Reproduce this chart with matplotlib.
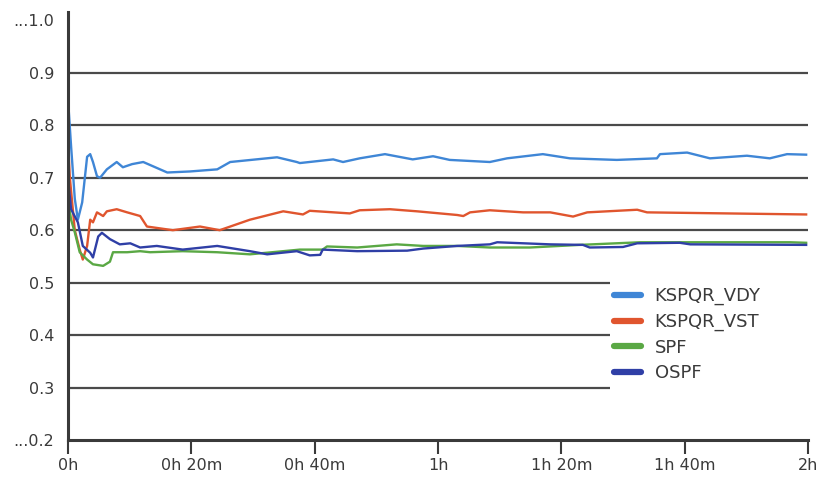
import matplotlib
matplotlib.use("Agg")
import matplotlib.pyplot as plt
from matplotlib.patches import Rectangle

# ---- data (minutes, value) ----
vdy_t = [0, 0.5, 1.1, 1.6, 2.3, 3.1, 3.6, 4.05, 4.7, 5.2, 6.3, 7.9, 8.9, 10.4, 12.2, 16.1, 19.8, 24.2,
         26.3, 33.9, 37.1, 37.6, 43.0, 44.6, 47.3, 51.4, 55.9, 59.2, 61.9, 68.4, 71.2, 77.0, 81.4, 89.0,
         95.5, 96.0, 100.4, 104.1, 110.1, 113.8, 116.6, 119.7]
vdy_v = [0.85, 0.76, 0.66, 0.62, 0.653, 0.74, 0.745, 0.73, 0.703, 0.70, 0.716, 0.73, 0.72, 0.726, 0.73,
         0.71, 0.712, 0.716, 0.73, 0.739, 0.73, 0.728, 0.735, 0.73, 0.737, 0.745, 0.735, 0.741, 0.734,
         0.73, 0.737, 0.745, 0.737, 0.734, 0.737, 0.745, 0.748, 0.737, 0.742, 0.737, 0.745, 0.744]

vst_t = [0, 0.3, 1.1, 1.9, 2.4, 3.1, 3.6, 4.05, 4.7, 5.7, 6.3, 7.9, 9.6, 11.7, 12.8, 17.0, 21.4, 24.6,
         29.5, 34.9, 38.1, 39.2, 45.7, 47.3, 52.2, 56.6, 63.1, 64.1, 65.2, 68.4, 73.8, 78.2, 81.9, 84.2,
         92.3, 93.9, 119.7]
vst_v = [0.77, 0.70, 0.60, 0.563, 0.544, 0.57, 0.62, 0.615, 0.634, 0.627, 0.636, 0.64, 0.634, 0.627,
         0.607, 0.60, 0.607, 0.60, 0.62, 0.636, 0.63, 0.637, 0.632, 0.638, 0.64, 0.636, 0.629, 0.627,
         0.634, 0.638, 0.634, 0.634, 0.626, 0.634, 0.639, 0.634, 0.63]

spf_t = [0, 0.5, 1.1, 1.9, 3.1, 4.05, 5.7, 6.8, 7.3, 9.6, 11.7, 13.3, 18.6, 24.2, 29.5, 34.9, 37.6,
         41.3, 42.0, 46.9, 53.3, 57.6, 63.1, 68.4, 74.9, 83.0, 92.8, 96.0, 100.4, 117.1, 119.7]
spf_v = [0.66, 0.62, 0.596, 0.558, 0.544, 0.535, 0.532, 0.54, 0.558, 0.558, 0.56, 0.558, 0.56, 0.558,
         0.554, 0.56, 0.563, 0.563, 0.569, 0.567, 0.573, 0.57, 0.57, 0.567, 0.567, 0.572, 0.577, 0.577,
         0.577, 0.577, 0.576]

ospf_t = [0, 0.5, 1.6, 2.4, 3.6, 4.05, 4.9, 5.5, 6.8, 8.4, 10.1, 11.7, 14.4, 18.6, 24.2, 29.5, 32.3,
          37.1, 39.2, 40.9, 41.3, 46.9, 55.0, 57.6, 63.1, 68.4, 69.6, 78.2, 83.5, 84.6, 90.0, 92.3, 99.2,
          100.9, 119.7]
ospf_v = [0.70, 0.64, 0.615, 0.57, 0.557, 0.548, 0.588, 0.595, 0.583, 0.573, 0.575, 0.567, 0.57, 0.563,
          0.57, 0.56, 0.554, 0.56, 0.552, 0.553, 0.563, 0.56, 0.561, 0.565, 0.57, 0.573, 0.577, 0.573,
          0.572, 0.567, 0.568, 0.575, 0.576, 0.573, 0.572]

series_names = ["KSPQR_VDY", "KSPQR_VST", "SPF", "OSPF"]
series_colors = ["#3f86d6", "#e0552e", "#5aa844", "#2f3fa6"]

y_ticks = [0.2, 0.3, 0.4, 0.5, 0.6, 0.7, 0.8, 0.9, 1.0]
y_tick_labels = ["...0.2", "0.3", "0.4", "0.5", "0.6", "0.7", "0.8", "0.9", "...1.0"]
x_ticks = [0, 20, 40, 60, 80, 100, 120]
x_tick_labels = ["0h", "0h 20m", "0h 40m", "1h", "1h 20m", "1h 40m", "2h"]
grid_levels = [0.3, 0.4, 0.5, 0.6, 0.7, 0.8, 0.9]

# ---- figure ----
fig = plt.figure(figsize=(8.23, 4.88), dpi=100)
ax = fig.add_axes([68 / 823, 48 / 488, 740 / 823, 428 / 488])
ax.set_xlim(0, 120)
ax.set_ylim(0.2, 1.016)

for g in grid_levels:
    ax.axhline(g, color="#4a4a4a", lw=1.6, zorder=1)

# white legend panel covering lower right gridlines
ax.add_patch(Rectangle(((610 - 68) / 740, (440 - 398) / 428), 1 - (610 - 68) / 740, (398 - 278) / 428,
                       transform=ax.transAxes, facecolor="white", edgecolor="none", zorder=2))

data = [(vdy_t, vdy_v), (vst_t, vst_v), (spf_t, spf_v), (ospf_t, ospf_v)]
handles = []
for (t, v), name, c in zip(data, series_names, series_colors):
    h, = ax.plot(t, v, color=c, lw=1.7, label=name, zorder=3)
    handles.append(h)

leg = ax.legend(handles=handles, loc="upper left",
                bbox_to_anchor=((614 - 68) / 740, (440 - 287) / 428),
                frameon=False, fontsize=13, handlelength=1.5, handletextpad=0.75,
                labelspacing=0.42, borderaxespad=0, borderpad=0)
for lh in leg.get_lines():
    lh.set_linewidth(4.5)
    lh.set_solid_capstyle("round")
for tx in leg.get_texts():
    tx.set_color("#3a3a3a")

for s in ["top", "right"]:
    ax.spines[s].set_visible(False)
for s in ["left", "bottom"]:
    ax.spines[s].set_color("#3a3a3a")
    ax.spines[s].set_linewidth(2.2)
    ax.spines[s].set_zorder(4)

ax.set_yticks(y_ticks)
ax.set_yticklabels(y_tick_labels)
ax.set_xticks(x_ticks)
ax.set_xticklabels(x_tick_labels)
ax.tick_params(axis="y", length=0, pad=10, labelsize=11.5, labelcolor="#3a3a3a")
ax.tick_params(axis="x", length=10, width=1.5, color="#3a3a3a", direction="out", pad=3,
               labelsize=11.5, labelcolor="#3a3a3a")

fig.savefig("out.png", dpi=100, facecolor="white")
